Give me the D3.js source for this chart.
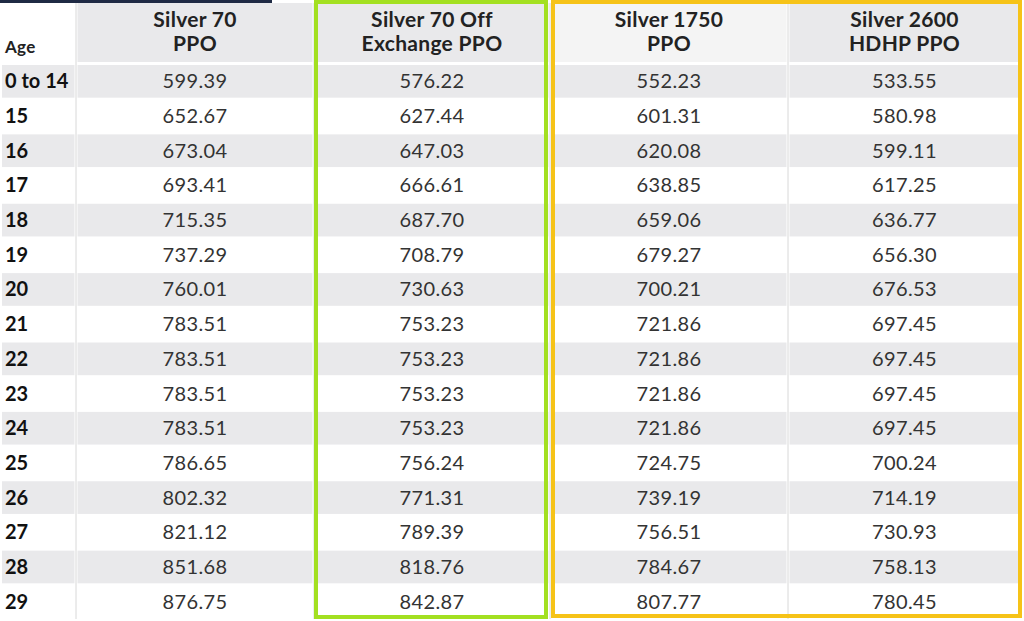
<!DOCTYPE html>
<html><head><meta charset="utf-8">
<script src="https://cdn.jsdelivr.net/npm/d3@7"></script>
<style>body{margin:0;background:#fff}svg{display:block}</style>
</head><body><svg id="c" width="1024" height="621"></svg>
<script>
const ages = ["0 to 14","15","16","17","18","19","20","21","22","23","24","25","26","27","28","29"];
const headers = [["Age"],["Silver 70","PPO"],["Silver 70 Off","Exchange PPO"],["Silver 1750","PPO"],["Silver 2600","HDHP PPO"]];
const silver70 = [599.39,652.67,673.04,693.41,715.35,737.29,760.01,783.51,783.51,783.51,783.51,786.65,802.32,821.12,851.68,876.75];
const silver70Off = [576.22,627.44,647.03,666.61,687.70,708.79,730.63,753.23,753.23,753.23,753.23,756.24,771.31,789.39,818.76,842.87];
const silver1750 = [552.23,601.31,620.08,638.85,659.06,679.27,700.21,721.86,721.86,721.86,721.86,724.75,739.19,756.51,784.67,807.77];
const silver2600 = [533.55,580.98,599.11,617.25,636.77,656.30,676.53,697.45,697.45,697.45,697.45,700.24,714.19,730.93,758.13,780.45];
const series = [silver70, silver70Off, silver1750, silver2600];

const svg = d3.select("#c");
const font = "Lato, 'Noto Sans', sans-serif";
const colEdges = [2,76,314,550,788,1021];
const x = i => colEdges[i], w = i => colEdges[i+1]-colEdges[i];
const headerH = 64;
const y = d3.scaleBand().domain(d3.range(ages.length)).range([headerH, 619]).paddingInner(0);

svg.append("rect").attr("x",0).attr("y",0).attr("width",272).attr("height",3).attr("fill","#1f2a44");
headers.forEach((h,i)=>{
  if(i>0) svg.append("rect").attr("x",x(i)+1.5).attr("y",3).attr("width",w(i)-3).attr("height",headerH-5)
    .attr("fill", i===3 ? "#f4f4f4" : "#e9e9eb");
  const t = svg.append("text").attr("font-family",font).attr("font-weight",700).attr("fill","#222")
    .attr("font-size", i===0?17:21).attr("letter-spacing",0.3).attr("text-anchor", i===0?"start":"middle");
  if(i===0){ t.attr("x",5).attr("y",53).text(h[0]); }
  else h.forEach((s,k)=>t.append("tspan").attr("x",x(i)+w(i)/2).attr("y",27+k*24).text(s));
});
ages.forEach((a,r)=>{
  const g = svg.append("g");
  if(r%2===0) for(let i=0;i<5;i++) g.append("rect").attr("x",x(i)+(i?1.5:0)).attr("y",y(r)+1).attr("width",w(i)-(i?3:1.5)).attr("height",y.bandwidth()-2).attr("fill","#e9e9eb");
  g.append("text").attr("x",5).attr("y",y(r)+y.bandwidth()/2+7).attr("font-family",font).attr("font-weight",700)
    .attr("font-size",20).attr("fill","#111").text(a);
  series.forEach((s,i)=>{
    g.append("text").attr("x",x(i+1)+w(i+1)/2).attr("y",y(r)+y.bandwidth()/2+7).attr("text-anchor","middle")
      .attr("font-family",font).attr("font-size",20).attr("letter-spacing",0.4).attr("fill","#333").text(s[r].toFixed(2));
  });
});
for(let i=1;i<5;i++) svg.append("line").attr("x1",x(i)).attr("x2",x(i)).attr("y1",3).attr("y2",619).attr("stroke","#d8d8d8").attr("stroke-width",1);
svg.append("rect").attr("x",316).attr("y",2).attr("width",230).attr("height",615).attr("fill","none").attr("stroke","#a3e021").attr("stroke-width",4);
svg.append("rect").attr("x",553).attr("y",2).attr("width",467).attr("height",614).attr("fill","none").attr("stroke","#f6c318").attr("stroke-width",4);
</script></body></html>
